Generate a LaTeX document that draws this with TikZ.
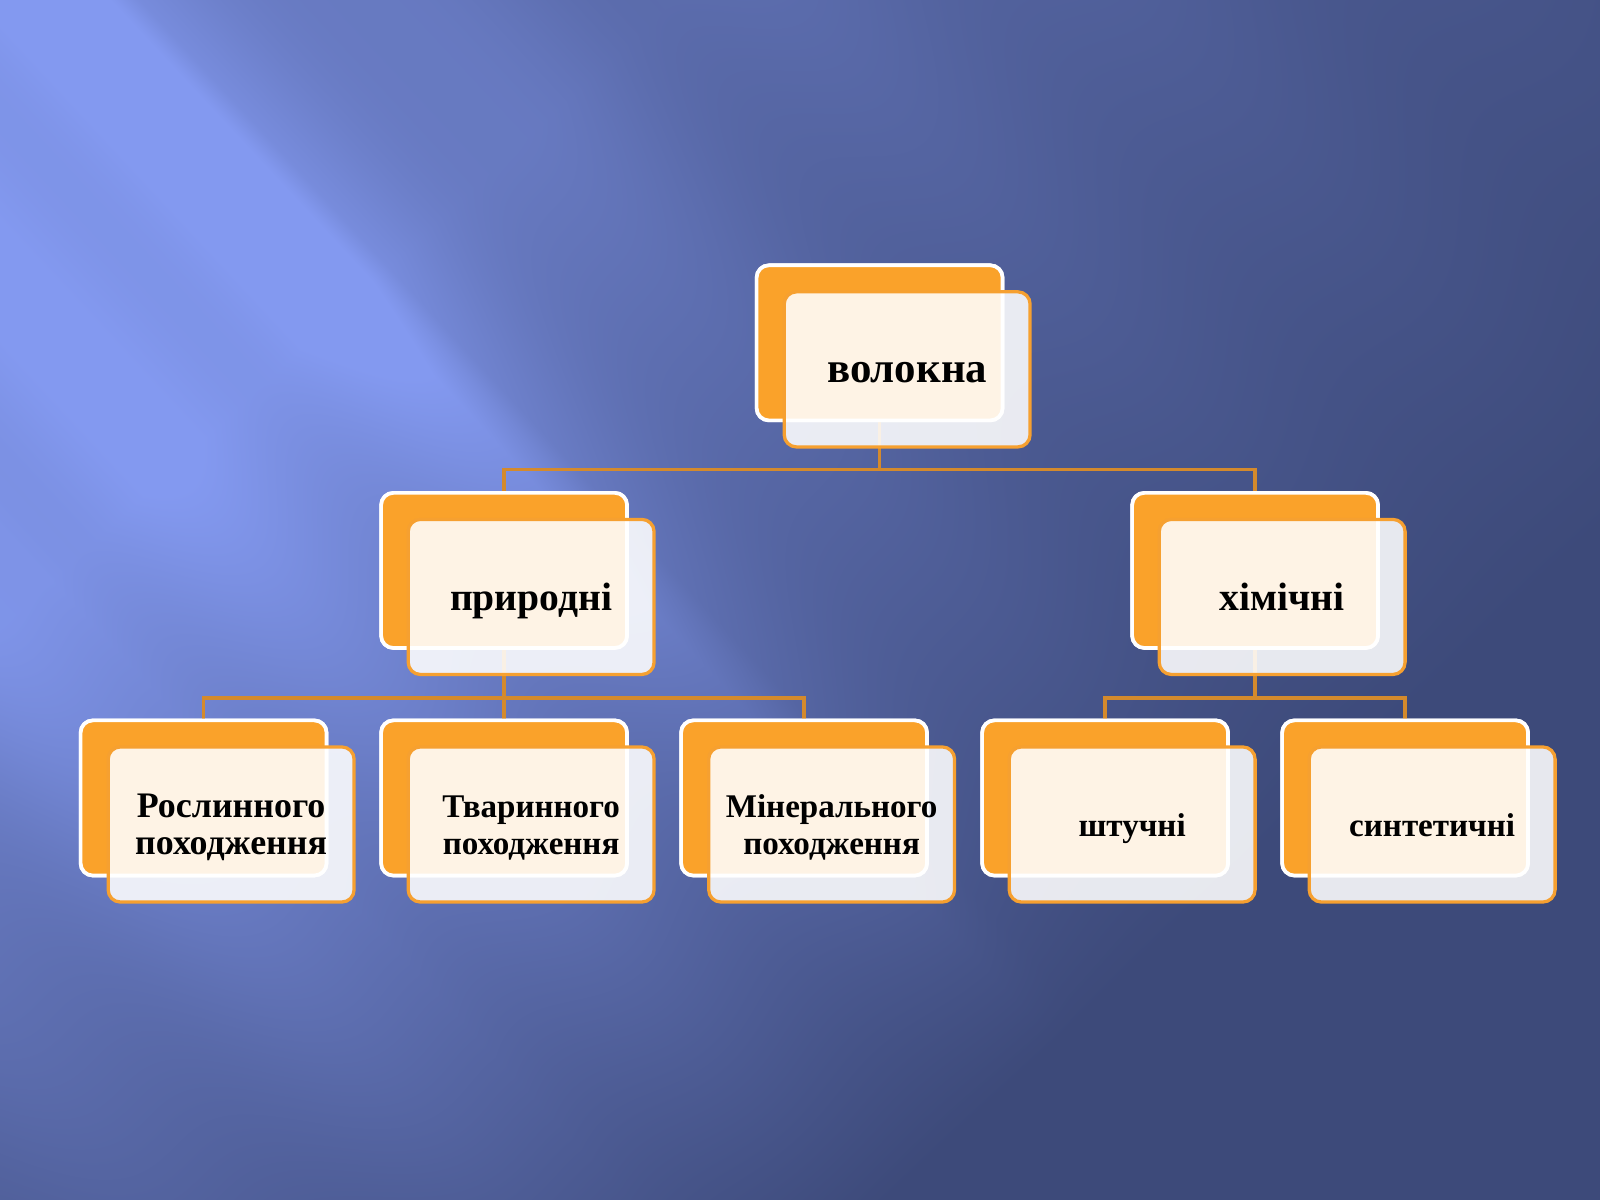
\documentclass[tikz,border=0pt]{standalone}
\usepackage{fontspec}
\setmainfont{Liberation Serif}
\definecolor{boxorange}{RGB}{250,162,42}
\definecolor{frameorange}{RGB}{246,160,48}
\definecolor{linkorange}{RGB}{212,138,44}
\pgfdeclarefunctionalshading{bgshade}{\pgfpoint{0bp}{0bp}}{\pgfpoint{100bp}{100bp}}{}{
 75 exch sub 23.52 mul
 exch 25 sub 31.36 mul
 2 copy 0.73 mul exch 0.68 mul sub
 3 1 roll 0.68 mul exch 0.73 mul add
 1450 exch sub 1000 div
 dup abs add 2 div
 dup 1 sub abs neg add 1 add 2 div
 exch
 dup 84 sub dup abs add 2 div 600 div
 1 index -350 exch sub dup abs add 2 div 500 div
 add 1 add
 1 index 60 sub 40 div
 dup abs add 2 div dup 1 sub abs neg add 1 add 2 div
 0.22 mul 1 exch sub
 exch div
 exch
 dup 1.4 mul sin 0.07 mul exch 0.55 mul 40 add sin 0.05 mul add 1 add
 mul mul
 dup 1 sub abs neg add 1 add 2 div
 dup 0.275 mul 0.239 add
 exch dup 0.310 mul 0.290 add
 exch 0.463 mul 0.478 add
}
\newcommand\lowerit[1]{\raisebox{0pt}[\dimexpr\height+4pt\relax][\depth]{#1}}
\newcommand\lineone[1]{\lowerit{\vphantom{Бу}#1}}
\newcommand\linetwo[2]{\lowerit{\begin{tabular}{@{}c@{}}#1\\#2\end{tabular}}}
\tikzset{
 backbox/.style={rectangle, rounded corners=6pt, fill=boxorange, draw=white, line width=1.8pt, minimum width=120.5pt, minimum height=76pt, inner sep=0pt},
 frontbox/.style={rectangle, rounded corners=6pt, fill=white, fill opacity=0.88, text opacity=1, draw=frameorange, line width=1.6pt, minimum width=120.5pt, minimum height=76pt, inner sep=0pt, align=center, text=black},
 toptext/.style={font=\bfseries\fontsize{21}{21}\selectfont},
 midtext/.style={font=\bfseries\fontsize{19.4}{19.4}\selectfont},
 leaftext/.style={font=\bfseries\fontsize{16.2}{18}\selectfont},
 leafbig/.style={font=\bfseries\fontsize{17.6}{18}\selectfont},
 conn/.style={draw=linkorange, line width=1.6pt}
}
\begin{document}
\begin{tikzpicture}[x=0.5pt,y=-0.5pt]
\useasboundingbox (0,0) rectangle (1568,1176);
\shade[shading=bgshade] (0,0) rectangle (1568,1176);
% back boxes (named first so connectors can use them)
\path (862,336) node[backbox] (btop) {};
\path (494,559) node[backbox] (bnat) {};
\path (1230,559) node[backbox] (bchem) {};
\path (199.5,782) node[backbox] (bl1) {};
\path (494,782) node[backbox] (bl2) {};
\path (788,782) node[backbox] (bl3) {};
\path (1083,782) node[backbox] (bl4) {};
\path (1377,782) node[backbox] (bl5) {};
% connectors
\coordinate (j0) at (862,460);
\coordinate (j1) at (494,684);
\coordinate (j2) at (1230,684);
\draw[conn] (btop.south) -- (j0) -| (bnat.north);
\draw[conn] (j0) -| (bchem.north);
\draw[conn] (bnat.south) -- (j1) -- (bl2.north);
\draw[conn] (j1) -| (bl1.north);
\draw[conn] (j1) -| (bl3.north);
\draw[conn] (bchem.south) -- (j2) -| (bl4.north);
\draw[conn] (j2) -| (bl5.north);
% redraw back boxes over connectors
\node[backbox] at (btop) {};
\node[backbox] at (bnat) {};
\node[backbox] at (bchem) {};
\node[backbox] at (bl1) {};
\node[backbox] at (bl2) {};
\node[backbox] at (bl3) {};
\node[backbox] at (bl4) {};
\node[backbox] at (bl5) {};
% front boxes with text
\node[frontbox, toptext] (ftop) at (889,362) {\lineone{волокна}};
\node[frontbox, midtext] (fnat) at (520.5,585) {\lineone{природні}};
\node[frontbox, midtext] (fchem) at (1256.5,585) {\lineone{хімічні}};
\node[frontbox, leafbig] (fl1) at (226.5,808) {\linetwo{Рослинного}{походження}};
\node[frontbox, leaftext] (fl2) at (520.5,808) {\linetwo{Тваринного}{походження}};
\node[frontbox, leaftext] (fl3) at (815,808) {\linetwo{Мінерального}{походження}};
\node[frontbox, leaftext] (fl4) at (1109.5,808) {\lineone{штучні}};
\node[frontbox, leaftext] (fl5) at (1403.5,808) {\lineone{синтетичні}};
\end{tikzpicture}
\end{document}
